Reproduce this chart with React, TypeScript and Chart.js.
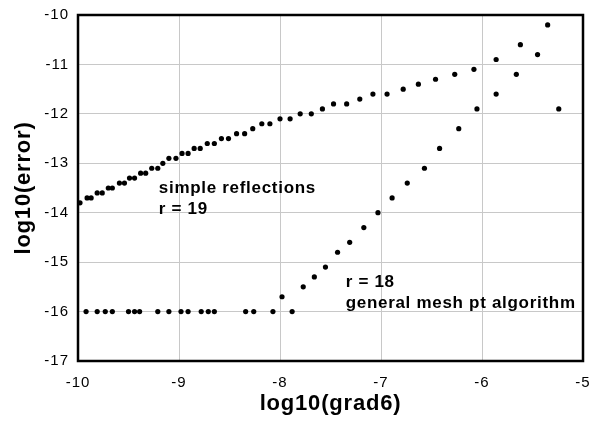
import React, { useEffect, useRef } from 'react';
import { Chart, registerables } from 'chart.js';
Chart.register(...registerables);

// simple reflections, r = 19
const reflX = [-9.98, -9.91, -9.87, -9.81, -9.76, -9.70, -9.66, -9.59, -9.54, -9.49, -9.44, -9.38, -9.33, -9.27, -9.21, -9.16, -9.10, -9.03, -8.97, -8.91, -8.85, -8.79, -8.72, -8.65, -8.58, -8.51, -8.43, -8.35, -8.27, -8.18, -8.10, -8.00, -7.90, -7.80, -7.69, -7.58, -7.47, -7.34, -7.21, -7.08, -6.94, -6.78, -6.63, -6.46, -6.27, -6.08, -5.86, -5.62, -5.35];
const reflY = [-13.8, -13.7, -13.7, -13.6, -13.6, -13.5, -13.5, -13.4, -13.4, -13.3, -13.3, -13.2, -13.2, -13.1, -13.1, -13.0, -12.9, -12.9, -12.8, -12.8, -12.7, -12.7, -12.6, -12.6, -12.5, -12.5, -12.4, -12.4, -12.3, -12.2, -12.2, -12.1, -12.1, -12.0, -12.0, -11.9, -11.8, -11.8, -11.7, -11.6, -11.6, -11.5, -11.4, -11.3, -11.2, -11.1, -10.9, -10.6, -10.2];

// general mesh pt algorithm, r = 18
const meshX = [-9.92, -9.81, -9.73, -9.66, -9.50, -9.44, -9.39, -9.21, -9.10, -8.98, -8.91, -8.78, -8.71, -8.65, -8.34, -8.26, -8.07, -7.98, -7.88, -7.77, -7.66, -7.55, -7.43, -7.31, -7.17, -7.03, -6.89, -6.74, -6.57, -6.42, -6.23, -6.05, -5.86, -5.66, -5.45, -5.24];
const meshY = [-16, -16, -16, -16, -16, -16, -16, -16, -16, -16, -16, -16, -16, -16, -16, -16, -16, -15.7, -16, -15.5, -15.3, -15.1, -14.8, -14.6, -14.3, -14.0, -13.7, -13.4, -13.1, -12.7, -12.3, -11.9, -11.6, -11.2, -10.8, -11.9];

const xTickValues = [-10, -9, -8, -7, -6, -5];
const yTickValues = [-17, -16, -15, -14, -13, -12, -11, -10];
const xTitle = 'log10(grad6)';
const yTitle = 'log10(error)';
const reflNote = ['simple reflections', 'r = 19'];
const meshNote = ['r = 18', 'general mesh pt algorithm'];

const FONT = '"Liberation Sans", Arial, Helvetica, sans-serif';

export default function App() {
  const ref = useRef<HTMLCanvasElement | null>(null);
  useEffect(() => {
    document.body.style.margin = '0';
    const canvas = ref.current;
    if (!canvas) return;

    const decor = {
      id: 'decor',
      beforeDraw(chart: any) {
        chart.ctx.letterSpacing = '1px';
      },
      beforeDatasetsDraw(chart: any) {
        const { ctx, chartArea: a } = chart;
        ctx.save();
        ctx.strokeStyle = '#000';
        ctx.lineWidth = 2.5;
        ctx.strokeRect(a.left, a.top, a.right - a.left, a.bottom - a.top);
        ctx.restore();
      },
      afterDraw(chart: any) {
        const { ctx, chartArea: a, scales } = chart;
        const xs = scales.x, ys = scales.y;
        ctx.save();
        ctx.fillStyle = '#000';
        ctx.letterSpacing = '0.8px';
        ctx.font = `bold 22px ${FONT}`;
        ctx.textAlign = 'center';
        ctx.textBaseline = 'middle';
        ctx.fillText(xTitle, (a.left + a.right) / 2, 404);
        ctx.save();
        ctx.translate(24, (a.top + a.bottom) / 2);
        ctx.rotate(-Math.PI / 2);
        ctx.fillText(yTitle, 0, 0);
        ctx.restore();

        ctx.font = `bold 17px ${FONT}`;
        ctx.letterSpacing = '0.7px';
        ctx.textAlign = 'left';
        ctx.textBaseline = 'alphabetic';
        const rx = xs.getPixelForValue(-9.2);
        ctx.fillText(reflNote[0], rx, ys.getPixelForValue(-13.61));
        ctx.fillText(reflNote[1], rx, ys.getPixelForValue(-14.03));
        const mx = xs.getPixelForValue(-7.35);
        ctx.fillText(meshNote[0], mx, ys.getPixelForValue(-15.51));
        ctx.fillText(meshNote[1], mx, ys.getPixelForValue(-15.93));
        ctx.restore();
      },
    };

    const chart = new Chart(canvas, {
      type: 'scatter',
      data: {
        datasets: [
          {
            label: 'simple reflections',
            data: reflX.map((x, i) => ({ x, y: reflY[i] })),
            backgroundColor: '#000',
            borderColor: '#000',
            pointRadius: 2.6,
            pointBorderWidth: 0,
            clip: false as any,
          },
          {
            label: 'general mesh pt algorithm',
            data: meshX.map((x, i) => ({ x, y: meshY[i] })),
            backgroundColor: '#000',
            borderColor: '#000',
            pointRadius: 2.6,
            pointBorderWidth: 0,
            clip: false as any,
          },
        ],
      },
      options: {
        animation: false,
        responsive: false,
        devicePixelRatio: 1,
        layout: { padding: { top: 15, right: 8, left: 0, bottom: 0 } },
        plugins: { legend: { display: false }, tooltip: { enabled: false } },
        scales: {
          x: {
            type: 'linear',
            min: -10,
            max: -5,
            afterBuildTicks: (s: any) => { s.ticks = xTickValues.map((v) => ({ value: v })); },
            afterFit: (s: any) => { s.height = 60; s.paddingLeft = 0; s.paddingRight = 0; },
            ticks: {
              color: '#000',
              font: { family: FONT, size: 15 },
              padding: 13,
              maxRotation: 0,
              callback: (v: any) => String(v),
            },
            grid: { color: '#c8c8c8', lineWidth: 1, drawTicks: false },
            border: { display: false },
          },
          y: {
            type: 'linear',
            min: -17,
            max: -10,
            afterBuildTicks: (s: any) => { s.ticks = yTickValues.map((v) => ({ value: v })); },
            afterFit: (s: any) => { s.width = 78; s.paddingTop = 0; s.paddingBottom = 0; },
            ticks: {
              color: '#000',
              font: { family: FONT, size: 15 },
              padding: 9,
              callback: (v: any) => String(v),
            },
            grid: { color: '#c8c8c8', lineWidth: 1, drawTicks: false },
            border: { display: false },
          },
        },
      },
      plugins: [decor],
    });
    return () => chart.destroy();
  }, []);
  return <canvas ref={ref} width={591} height={421} style={{ display: 'block' }} />;
}
